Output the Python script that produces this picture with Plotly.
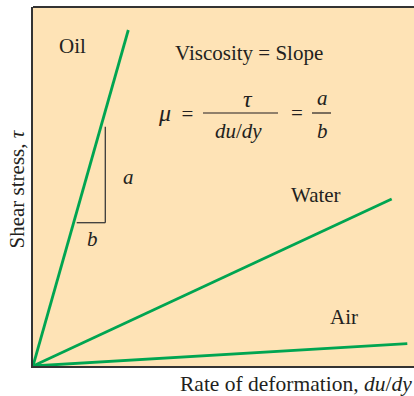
import plotly.graph_objects as go

# Shear stress vs. rate of deformation for three fluids (straight lines through origin)
fluids = ["Oil", "Water", "Air"]
rate_end = [95.3, 358.7, 374.3]
stress_end = [336.0, 167.0, 22.3]

# Slope triangle on the oil line: run b and rise a
tri_x = [43.7, 72.3]
tri_y = [143.3, 239.3]

GREEN = "#00A551"
INK = "#231F20"
BG = "#FEE3B6"
SERIF = "Liberation Serif, Times New Roman, serif"
FS = 21

fig = go.Figure()
for name, xr, yr in zip(fluids, rate_end, stress_end):
    fig.add_trace(go.Scatter(x=[0, xr], y=[0, yr], mode="lines", name=name,
                             line=dict(color=GREEN, width=2.8), showlegend=False,
                             hoverinfo="skip"))

shapes = [
    # slope triangle
    dict(type="line", x0=tri_x[1], x1=tri_x[1], y0=tri_y[0], y1=tri_y[1],
         line=dict(color="#3a3a3a", width=1.3)),
    dict(type="line", x0=tri_x[0], x1=tri_x[1], y0=tri_y[0], y1=tri_y[0],
         line=dict(color="#3a3a3a", width=1.3)),
    # fraction bars in the formula
    dict(type="line", x0=170, x1=245, y0=253, y1=253, line=dict(color=INK, width=1.2)),
    dict(type="line", x0=279, x1=298, y0=253, y1=253, line=dict(color=INK, width=1.2)),
    # top border of the panel
    dict(type="line", xref="paper", yref="paper", x0=0, x1=1, y0=1, y1=1,
         line=dict(color="#333333", width=2)),
]

def txt(x, y, s, size=FS, **kw):
    return dict(x=x, y=y, text=s, showarrow=False, xanchor="center", yanchor="middle",
                font=dict(family=SERIF, size=size, color=INK), **kw)

annotations = [
    txt(39, 320, "Oil"),
    txt(215.5, 313, "Viscosity = Slope"),
    txt(142, 253, "<i style='font-size:24px'>μ</i>  ="),
    txt(215, 267, "<i>τ</i>", size=24),
    txt(205, 235, "<i>du</i>/<i>dy</i>"),
    txt(264, 253, "="),
    txt(289, 268, "<i>a</i>"),
    txt(289, 235, "<i>b</i>"),
    txt(95, 189, "<i>a</i>"),
    txt(59, 127, "<i>b</i>"),
    txt(283, 171, "Water"),
    txt(311, 49, "Air"),
]

fig.update_layout(
    width=414, height=396,
    margin=dict(l=33, r=0, t=7, b=30),
    paper_bgcolor="white", plot_bgcolor=BG,
    shapes=shapes, annotations=annotations,
    xaxis=dict(range=[0, 381], showgrid=False, zeroline=False, showticklabels=False,
               ticks="", showline=True, linecolor="#333333", linewidth=2, fixedrange=True),
    yaxis=dict(range=[0, 359], showgrid=False, zeroline=False, showticklabels=False,
               ticks="", showline=True, linecolor="#333333", linewidth=2, fixedrange=True),
)

# axis titles placed as annotations for exact positioning
fig.add_annotation(xref="paper", yref="paper", x=1, y=0, yshift=-18, xanchor="right",
                   yanchor="middle", showarrow=False,
                   text="Rate of deformation, <i>du</i>/<i>dy</i>",
                   font=dict(family=SERIF, size=21.5, color=INK))
fig.add_annotation(xref="paper", yref="paper", x=0, y=0.5, xshift=-17, yshift=-3,
                   xanchor="center", yanchor="middle", showarrow=False, textangle=-90,
                   text="Shear stress, <i>τ</i>",
                   font=dict(family=SERIF, size=21, color=INK))

fig.write_html("out.html")
